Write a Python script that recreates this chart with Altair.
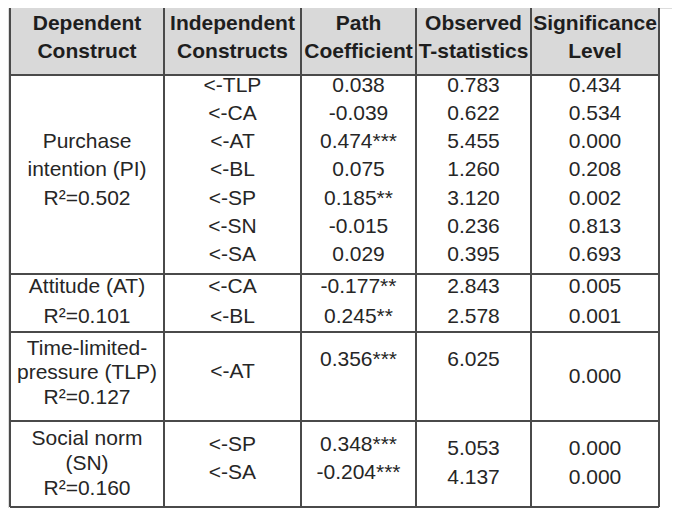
import altair as alt
import pandas as pd

# ---- table content ----
headers = [["Dependent", "Construct"], ["Independent", "Constructs"], ["Path", "Coefficient"],
           ["Observed", "T-statistics"], ["Significance", "Level"]]

dependent = [["Purchase", "intention (PI)", "R²=0.502"],
             ["Attitude (AT)", "R²=0.101"],
             ["Time-limited-", "pressure (TLP)", "R²=0.127"],
             ["Social norm", "(SN)", "R²=0.160"]]
independent = [["<-TLP", "<-CA", "<-AT", "<-BL", "<-SP", "<-SN", "<-SA"],
               ["<-CA", "<-BL"], ["<-AT"], ["<-SP", "<-SA"]]
path_coef = [["0.038", "-0.039", "0.474***", "0.075", "0.185**", "-0.015", "0.029"],
             ["-0.177**", "0.245**"], ["0.356***"], ["0.348***", "-0.204***"]]
t_stats = [["0.783", "0.622", "5.455", "1.260", "3.120", "0.236", "0.395"],
           ["2.843", "2.578"], ["6.025"], ["5.053", "4.137"]]
significance = [["0.434", "0.534", "0.000", "0.208", "0.002", "0.813", "0.693"],
                ["0.005", "0.001"], ["0.000"], ["0.000", "0.000"]]

# ---- layout (page pixel units) ----
col_edges = [10, 164, 301, 416, 531, 659]
row_edges = [7, 75, 274, 332, 421, 507]
header_lines = [22, 50]
dep_lines = [[140, 168, 197], [285, 315], [347, 371, 396], [437, 462, 487]]
body_lines = {
    1: [[83.5 + 28.3 * i for i in range(7)], [285, 315], [370], [443, 471]],
    2: [[83.5 + 28.3 * i for i in range(7)], [285, 315], [358], [443, 471]],
    3: [[83.5 + 28.3 * i for i in range(7)], [285, 315], [358], [447, 476]],
    4: [[83.5 + 28.3 * i for i in range(7)], [285, 315], [375], [447, 476]],
}

centers = [(col_edges[i] + col_edges[i + 1]) / 2 for i in range(5)]

rows = []
for c, hl in enumerate(headers):
    for t, y in zip(hl, header_lines):
        rows.append({"text": t, "x": centers[c], "y": y, "kind": "head"})
for b, block in enumerate(dependent):
    for t, y in zip(block, dep_lines[b]):
        rows.append({"text": t, "x": centers[0], "y": y, "kind": "body"})
for c, col in zip([1, 2, 3, 4], [independent, path_coef, t_stats, significance]):
    for b, block in enumerate(col):
        for t, y in zip(block, body_lines[c][b]):
            rows.append({"text": t, "x": centers[c], "y": y, "kind": "body"})
cells = pd.DataFrame(rows)

lines = []
for x in col_edges:
    lines.append({"x": x, "x2": x, "y": row_edges[0], "y2": row_edges[-1]})
for y in row_edges:
    lines.append({"x": col_edges[0], "x2": col_edges[-1], "y": y, "y2": y})
lines = pd.DataFrame(lines)

head_bg = pd.DataFrame([{"x": col_edges[0], "x2": col_edges[-1], "y": row_edges[0], "y2": row_edges[1]}])

W, H = 664, 500
xs = alt.Scale(domain=[8, 8 + W], nice=False, zero=False)
ys = alt.Scale(domain=[8 + H, 8], nice=False, zero=False)

bg = alt.Chart(head_bg).mark_rect(color="#d9d9d9").encode(
    x=alt.X("x:Q", scale=xs, axis=None), x2="x2:Q",
    y=alt.Y("y:Q", scale=ys, axis=None), y2="y2:Q")

grid = alt.Chart(lines).mark_rule(color="#4a4a4a", strokeWidth=2).encode(
    x=alt.X("x:Q", scale=xs, axis=None), x2="x2:Q",
    y=alt.Y("y:Q", scale=ys, axis=None), y2="y2:Q")

head_text = alt.Chart(cells).transform_filter(alt.datum.kind == "head").mark_text(
    font="Liberation Sans", fontSize=21, fontWeight="bold", color="#1e1e1e",
    align="center", baseline="middle", dy=2).encode(
    x=alt.X("x:Q", scale=xs, axis=None), y=alt.Y("y:Q", scale=ys, axis=None), text="text:N")

body_text = alt.Chart(cells).transform_filter(alt.datum.kind == "body").mark_text(
    font="Liberation Sans", fontSize=21, color="#262626",
    align="center", baseline="middle", dy=2).encode(
    x=alt.X("x:Q", scale=xs, axis=None), y=alt.Y("y:Q", scale=ys, axis=None), text="text:N")

chart = alt.layer(bg, grid, head_text, body_text).properties(
    width=W, height=H, padding=0, autosize=alt.AutoSizeParams(type="none")
).configure_view(stroke=None).configure(background="white")

chart.save("out.html", embed_options={"renderer": "svg", "actions": False})
